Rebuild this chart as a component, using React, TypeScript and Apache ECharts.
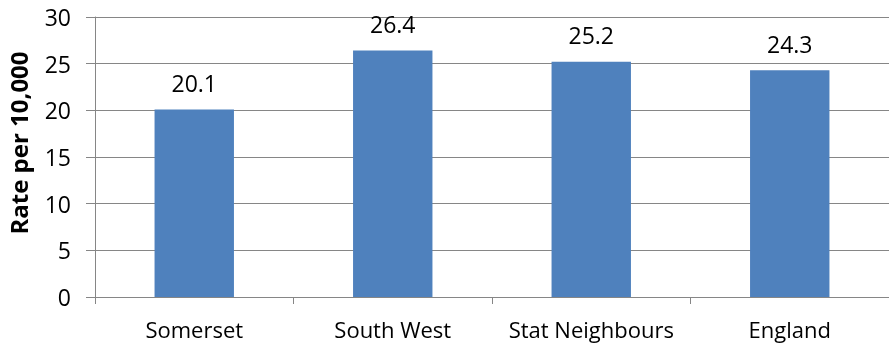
import React, { useEffect, useRef } from "react";
import * as echarts from "echarts";

const categories = ["Somerset", "South West", "Stat Neighbours", "England"];
const values = [20.1, 26.4, 25.2, 24.3];
const yTicks = [0, 5, 10, 15, 20, 25, 30];
const yTitle = "Rate per 10,000";

export default function App() {
  const ref = useRef<HTMLDivElement>(null);
  useEffect(() => {
    const chart = echarts.init(ref.current!, null, { renderer: "svg" });
    const font = "Open Sans";
    chart.setOption({
      animation: false,
      grid: { left: 95, right: -10, top: 17, bottom: 46 },
      graphic: [
        {
          type: "text",
          x: 18.5,
          y: 143,
          rotation: Math.PI / 2,
          style: {
            text: yTitle,
            fill: "#000",
            font: `bold 24px '${font}'`,
            lineHeight: 22,
            textAlign: "center",
            textVerticalAlign: "middle",
          },
        },
      ],
      xAxis: {
        type: "category",
        data: categories,
        axisLine: { lineStyle: { color: "#868686", width: 1 } },
        axisTick: { show: true, length: 7, alignWithLabel: false, lineStyle: { color: "#868686" } },
        axisLabel: { color: "#000", fontFamily: font, fontSize: 22, lineHeight: 22, margin: 21, interval: 0 },
      },
      yAxis: {
        type: "value",
        min: yTicks[0],
        max: yTicks[yTicks.length - 1],
        interval: 5,
        axisLine: { show: true, lineStyle: { color: "#868686" } },
        axisTick: { show: true, length: 9, lineStyle: { color: "#868686" } },
        axisLabel: { color: "#000", fontFamily: font, fontSize: 23, lineHeight: 24, margin: 24 },
        splitLine: { lineStyle: { color: "#868686" } },
      },
      series: [
        {
          type: "bar",
          data: values,
          barCategoryGap: "60%",
          itemStyle: { color: "#4F81BD" },
          label: {
            show: true,
            position: "top",
            distance: 15,
            color: "#000",
            fontFamily: font,
            fontSize: 23,
            formatter: (p: any) => p.value.toFixed(1),
          },
        },
      ],
    });
    return () => chart.dispose();
  }, []);
  return (
    <div
      ref={ref}
      style={{ position: "fixed", left: 0, top: 0, width: 889, height: 343 }}
    />
  );
}
